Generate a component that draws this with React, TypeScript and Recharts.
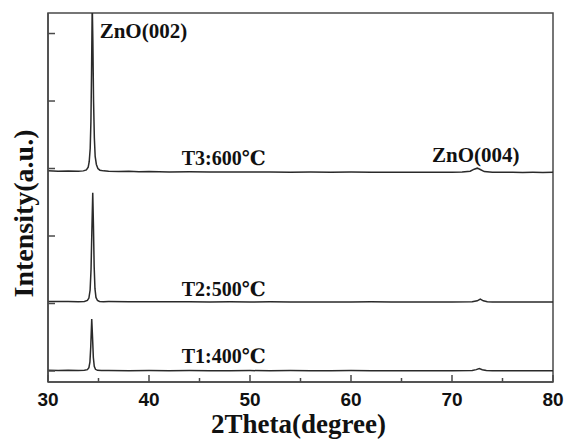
import React from 'react';
import { LineChart, Line, XAxis, YAxis, ReferenceArea, ReferenceDot, Label } from 'recharts';

// ---- data (2θ in degrees, stacked intensity in arbitrary units) ----
const thetaTicks = [30, 35, 40, 45, 50, 55, 60, 65, 70, 75, 80];
const levelTicks = [0, 1, 2, 3, 4, 5];

const t3Theta = [30, 31, 32, 33, 33.5, 33.8, 33.98, 34.08, 34.18, 34.25, 34.31, 34.38, 34.44, 34.51, 34.59, 34.67, 34.79, 34.94, 35.14, 35.5, 36, 37, 38, 39, 40, 42, 44, 46, 48, 50, 52, 54, 56, 58, 60, 62, 64, 66, 68, 70, 71, 71.8, 72.2, 72.5, 72.8, 73.2, 74, 75, 76, 77, 78, 79, 80];
const t3Intensity = [2.965, 2.96, 2.962, 2.958, 2.965, 2.98, 3.02, 3.1, 3.3, 3.7, 4.4, 5.45, 4.9, 4.0, 3.45, 3.18, 3.06, 3.0, 2.975, 2.965, 2.96, 2.955, 2.958, 2.952, 2.955, 2.95, 2.952, 2.948, 2.95, 2.947, 2.95, 2.945, 2.948, 2.945, 2.947, 2.944, 2.946, 2.943, 2.945, 2.944, 2.947, 2.96, 2.99, 3.005, 2.985, 2.955, 2.945, 2.943, 2.944, 2.942, 2.943, 2.942, 2.943];

const t2Theta = [30, 31, 32, 33, 33.6, 33.9, 34.05, 34.17, 34.26, 34.34, 34.43, 34.5, 34.57, 34.65, 34.75, 34.9, 35.1, 35.5, 36, 38, 40, 42, 44, 46, 48, 50, 52, 54, 56, 58, 60, 62, 64, 66, 68, 70, 72, 72.5, 72.8, 73.1, 73.5, 74, 76, 78, 80];
const t2Intensity = [1.03, 1.028, 1.03, 1.027, 1.03, 1.045, 1.08, 1.2, 1.5, 2.05, 2.64, 2.15, 1.55, 1.22, 1.09, 1.045, 1.03, 1.027, 1.028, 1.026, 1.027, 1.025, 1.026, 1.024, 1.025, 1.023, 1.025, 1.024, 1.022, 1.024, 1.023, 1.025, 1.022, 1.023, 1.022, 1.023, 1.025, 1.04, 1.065, 1.04, 1.025, 1.022, 1.023, 1.021, 1.022];

const t1Theta = [30, 31, 32, 33, 33.6, 33.9, 34.05, 34.15, 34.23, 34.33, 34.41, 34.49, 34.58, 34.7, 34.9, 35.3, 36, 38, 40, 42, 44, 46, 48, 50, 52, 54, 56, 58, 60, 62, 64, 66, 68, 70, 72, 72.4, 72.7, 73.0, 73.4, 74, 76, 78, 80];
const t1Intensity = [0.01, 0.008, 0.01, 0.008, 0.012, 0.02, 0.05, 0.13, 0.35, 0.77, 0.5, 0.2, 0.07, 0.025, 0.01, 0.006, 0.007, 0.005, 0.006, 0.004, 0.006, 0.005, 0.004, 0.006, 0.004, 0.006, 0.004, 0.005, 0.006, 0.004, 0.005, 0.004, 0.005, 0.004, 0.006, 0.02, 0.035, 0.018, 0.006, 0.004, 0.005, 0.004, 0.005];

const annotationText = ['ZnO(002)', 'ZnO(004)', 'T3:600℃', 'T2:500℃', 'T1:400℃'];
const annotationTheta = [39.45, 72.35, 47.4, 47.4, 47.4];
const annotationLevel = [5.04, 3.2, 3.16, 1.22, 0.225];

const toRows = (theta: number[], intensity: number[]) =>
  theta.map((t, i) => ({ theta: t, intensity: intensity[i] }));

const traces = [
  { key: 'T3', rows: toRows(t3Theta, t3Intensity) },
  { key: 'T2', rows: toRows(t2Theta, t2Intensity) },
  { key: 'T1', rows: toRows(t1Theta, t1Intensity) },
];

const AXIS = '#4a4a4a';
const LINE = '#2a2a2a';
const SERIF = "'Liberation Serif', 'Times New Roman', 'DejaVu Serif', serif";
const SANS = "'Liberation Sans', Arial, sans-serif";

const XTick = (props: any) => {
  const { x, y, payload } = props;
  const major = payload.value % 10 === 0;
  return (
    <g>
      <line x1={x} x2={x} y1={y} y2={y - (major ? 7 : 4)} stroke={AXIS} strokeWidth={1.5} />
      {major && (
        <text x={x} y={y + 24} textAnchor="middle" fontFamily={SANS} fontWeight="bold" fontSize={19} fill="#111">
          {payload.value}
        </text>
      )}
    </g>
  );
};

const YTick = (props: any) => {
  const { x, y } = props;
  return <line x1={x} x2={x + 7} y1={y} y2={y} stroke={AXIS} strokeWidth={1.5} />;
};

export default function App() {
  return (
    <div style={{ position: 'absolute', left: 0, top: 0, background: '#fff' }}>
      <LineChart width={566} height={439} margin={{ top: 13, right: 13, bottom: 0, left: 0 }}>
        <XAxis
          dataKey="theta"
          type="number"
          domain={[30, 80]}
          ticks={thetaTicks}
          allowDataOverflow
          height={57}
          tickLine={false}
          tickSize={0}
          tickMargin={0}
          tick={<XTick />}
          axisLine={{ stroke: AXIS, strokeWidth: 1.5 }}
          interval={0}
          label={
            <Label
              content={(p: any) => {
                const vb = p.viewBox;
                return (
                  <text x={vb.x + vb.width / 2 - 2} y={vb.y + 51} textAnchor="middle" fontFamily={SERIF} fontWeight="bold" fontSize={27} fill="#111">
                    2Theta(degree)
                  </text>
                );
              }}
            />
          }
        />
        <YAxis
          type="number"
          domain={[-0.163, 5.304]}
          ticks={levelTicks}
          allowDataOverflow
          width={48}
          tickLine={false}
          tickSize={0}
          tickMargin={0}
          tick={<YTick />}
          axisLine={{ stroke: AXIS, strokeWidth: 1.5 }}
          interval={0}
          label={
            <Label
              content={(p: any) => {
                const vb = p.viewBox;
                const cx = 33;
                const cy = vb.y + vb.height / 2 + 16;
                return (
                  <text x={cx} y={cy} textAnchor="middle" transform={`rotate(-90, ${cx}, ${cy})`} fontFamily={SERIF} fontWeight="bold" fontSize={28} fill="#111">
                    Intensity(a.u.)
                  </text>
                );
              }}
            />
          }
        />
        <ReferenceArea x1={30} x2={80} y1={-0.163} y2={5.304} fill="none" stroke={AXIS} strokeWidth={1.5} ifOverflow="visible" />
        {traces.map((t) => (
          <Line
            key={t.key}
            data={t.rows}
            dataKey="intensity"
            type="linear"
            dot={false}
            activeDot={false}
            stroke={LINE}
            strokeWidth={1.5}
            isAnimationActive={false}
          />
        ))}
        {annotationText.map((txt, i) => (
          <ReferenceDot
            key={txt}
            x={annotationTheta[i]}
            y={annotationLevel[i]}
            r={0}
            fill="none"
            stroke="none"
            ifOverflow="visible"
            label={{ value: txt, position: 'center', fontFamily: SERIF, fontWeight: 'bold', fontSize: i < 2 ? 21 : 20, fill: '#111' }}
          />
        ))}
      </LineChart>
    </div>
  );
}
